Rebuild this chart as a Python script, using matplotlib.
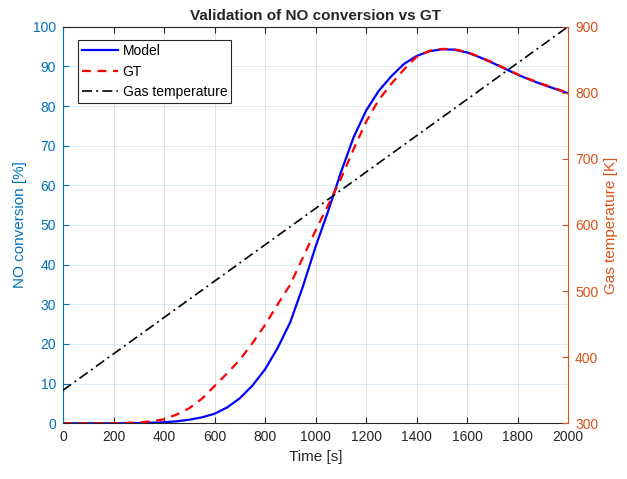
import matplotlib
matplotlib.use('Agg')
import matplotlib.pyplot as plt
import numpy as np

plt.rcParams['font.family'] = ['Liberation Sans', 'DejaVu Sans']

# values
time_model = [0, 100, 200, 300, 400, 450, 500, 550, 600, 650, 700, 750, 800, 850,
              900, 950, 1000, 1050, 1100, 1150, 1200, 1250, 1300, 1350, 1400, 1450,
              1500, 1550, 1600, 1650, 1700, 1750, 1800, 1850, 1900, 1950, 2000]
model = [0, 0, 0, 0.05, 0.25, 0.5, 0.9, 1.5, 2.4, 4.0, 6.3, 9.5, 13.6, 19.0,
         25.5, 34.5, 44.5, 53.5, 63.2, 72.0, 78.8, 83.8, 87.5, 90.6, 92.6, 93.8,
         94.3, 94.2, 93.5, 92.3, 90.9, 89.4, 87.9, 86.6, 85.4, 84.3, 83.2]

time_gt = [0, 100, 200, 300, 350, 400, 450, 500, 550, 600, 650, 700, 750, 800,
           850, 900, 950, 1000, 1050, 1100, 1150, 1200, 1250, 1300, 1350, 1400,
           1450, 1500, 1550, 1600, 1650, 1700, 1750, 1800, 1850, 1900, 1950, 2000]
gt = [0, 0, 0, 0.2, 0.5, 1.0, 2.2, 3.8, 6.2, 9.4, 12.6, 16.0, 20.2, 24.8,
      30.0, 35.0, 41.8, 48.6, 55.0, 61.6, 69.0, 76.0, 81.5, 85.6, 89.2, 92.4,
      93.9, 94.4, 94.3, 93.6, 92.4, 91.0, 89.5, 88.0, 86.7, 85.5, 84.4, 83.3]

time_gas = [0, 2000]
gas_temp = [350, 900]

blue_ax = '#0072BD'
orange_ax = '#D95319'
dark = '#262626'

fig = plt.figure(figsize=(6.27, 4.79), dpi=100)
ax = fig.add_axes([0.1005, 0.1163, 0.8055, 0.828])
ax2 = ax.twinx()

l1, = ax.plot(time_model, model, color='#0000FF', lw=1.6, label='Model')
l2, = ax.plot(time_gt, gt, color='#FF0000', lw=1.6, dashes=(4, 3), label='GT')
l3, = ax2.plot(time_gas, gas_temp, color='black', lw=1.2,
               dashes=(6, 2.5, 1.2, 2.5), label='Gas temperature')

ax.set_xlim(0, 2000)
ax.set_ylim(0, 100)
ax2.set_ylim(300, 900)
ax.set_xticks(np.arange(0, 2001, 200))
ax.set_yticks(np.arange(0, 101, 10))
ax2.set_yticks(np.arange(300, 901, 100))

# grid like MATLAB: grey verticals, axis-coloured horizontals
ax.grid(axis='x', color=dark, alpha=0.15, lw=0.6)
ax.grid(axis='y', color=blue_ax, alpha=0.15, lw=0.6)
ax.set_axisbelow(True)

ax.tick_params(axis='x', direction='in', length=4, top=True, colors=dark,
               labelsize=10, pad=5)
ax.tick_params(axis='y', direction='in', length=4, colors=blue_ax,
               labelsize=10, pad=5)
ax2.tick_params(axis='y', direction='in', length=4, colors=orange_ax,
                labelsize=10, pad=5)

ax.spines['left'].set_color(blue_ax)
ax.spines['right'].set_visible(False)
ax.spines['top'].set_color(dark)
ax.spines['bottom'].set_color(dark)
ax2.spines['right'].set_color(orange_ax)
ax2.spines['left'].set_visible(False)
ax2.spines['top'].set_visible(False)
ax2.spines['bottom'].set_visible(False)
for a in (ax, ax2):
    for s in a.spines.values():
        s.set_linewidth(0.8)

ax.set_xlabel('Time [s]', fontsize=11, color=dark)
ax.set_ylabel('NO conversion [%]', fontsize=11, color=blue_ax)
ax2.set_ylabel('Gas temperature [K]', fontsize=11, color=orange_ax)
ax.set_title('Validation of NO conversion vs GT', fontsize=11, fontweight='bold',
             color=dark, pad=5)

leg = ax2.legend(handles=[l1, l2, l3], loc='upper left',
                 bbox_to_anchor=(0.03, 0.966), borderaxespad=0, fontsize=10,
                 fancybox=False, framealpha=1, edgecolor=dark,
                 handlelength=2.6, handletextpad=0.3, borderpad=0.3,
                 labelspacing=0.45)
leg.get_frame().set_linewidth(0.8)

plt.savefig('out.png', dpi=100)
